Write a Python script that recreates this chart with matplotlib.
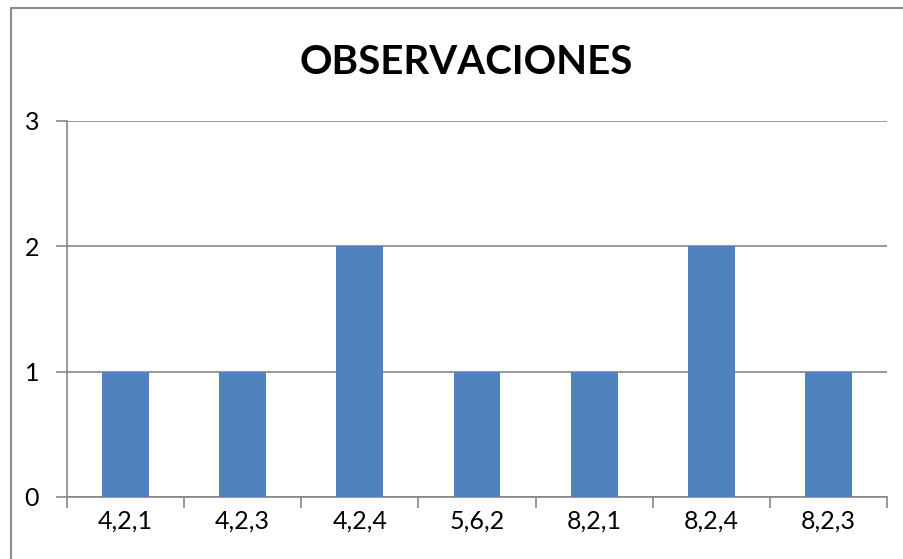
import matplotlib.pyplot as plt
import matplotlib.patches as mpatches
import numpy as np

# datos
categorias = ['4,2,1', '4,2,3', '4,2,4', '5,6,2', '8,2,1', '8,2,4', '8,2,3']
observaciones = [1, 1, 2, 1, 1, 2, 1]
titulo = 'OBSERVACIONES'

plt.rcParams['font.family'] = ['Lato', 'DejaVu Sans']

W, H = 904, 559
fig = plt.figure(figsize=(W / 100, H / 100), dpi=100)

# borde exterior del gráfico (cortado a la derecha y abajo)
borde = mpatches.Rectangle((11 / W, -0.05), 1.0, 1 - 8 / H + 0.05,
                           transform=fig.transFigure, fill=False,
                           edgecolor='#8c8c8c', linewidth=1.5)
fig.patches.append(borde)

ax = fig.add_axes([67 / W, 1 - 497 / H, (887 - 67) / W, (497 - 121) / H])

x = np.arange(len(categorias))
ax.bar(x, observaciones, width=0.4, color='#4F81BD', zorder=3)

ax.set_xlim(-0.5, len(categorias) - 0.5)
ax.set_ylim(0, 3)
ax.set_yticks([0, 1, 2, 3])
ax.yaxis.grid(True, color='#868686', linewidth=1.2, zorder=0)

# marcas del eje x entre categorías
ax.set_xticks(np.arange(-0.5, len(categorias), 1.0))
ax.set_xticklabels([])
ax.set_xticks(x, minor=True)
ax.set_xticklabels(categorias, minor=True)
ax.tick_params(axis='x', which='minor', length=0, pad=9, labelsize=18)
ax.tick_params(axis='x', which='major', length=8, color='#868686', width=1.2,
               direction='out')
ax.tick_params(axis='y', length=8, color='#868686', width=1.2, pad=12,
               labelsize=18)

for lado in ['top', 'right']:
    ax.spines[lado].set_visible(False)
for lado in ['left', 'bottom']:
    ax.spines[lado].set_color('#868686')
    ax.spines[lado].set_linewidth(1.2)

fig.text(466 / W, 1 - 62 / H, titulo, ha='center', va='center',
         fontsize=29, fontweight='bold')

fig.savefig('out.png', dpi=100, facecolor='white')
